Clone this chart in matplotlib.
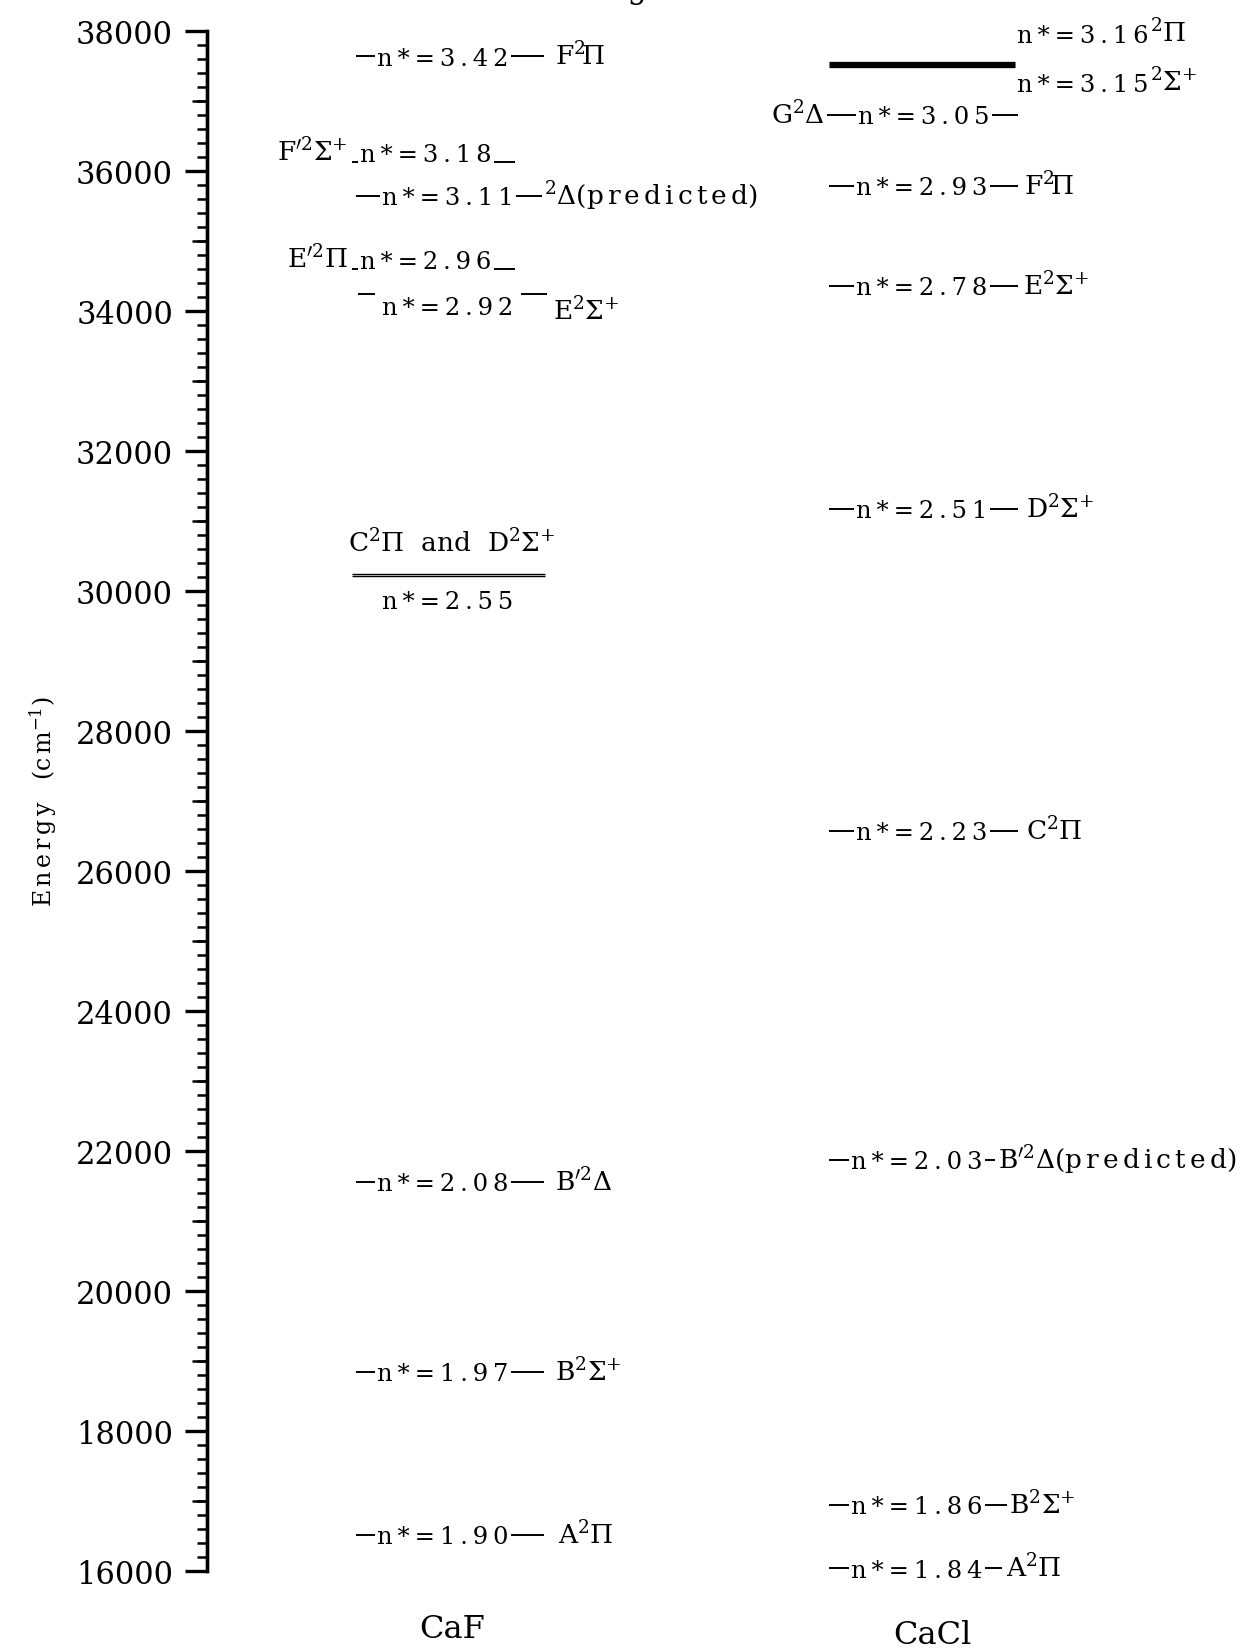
import matplotlib
matplotlib.use('Agg')
import matplotlib.pyplot as plt
from matplotlib.ticker import MultipleLocator, NullLocator, FixedLocator

plt.rcParams['font.family'] = ['DejaVu Serif', 'DejaVu Sans']
plt.rcParams['mathtext.fontset'] = 'dejavuserif'

# ---------------- data ----------------
molecules = ['CaF', 'CaCl']

caf_energy = [37640, 36130, 35650, 34600, 34250, 30250, 30210, 21557, 18843, 16514]
caf_nstar = [3.42, 3.18, 3.11, 2.96, 2.92, 2.55, 2.55, 2.08, 1.97, 1.90]
caf_states = [r'$\mathrm{F}^{2}\!\Pi$',
              r'$\mathrm{F}^{\prime 2}\Sigma^{+}$',
              r'$^{2}\Delta\mathrm{(p\,r\,e\,d\,i\,c\,t\,e\,d)}$',
              r'$\mathrm{E}^{\prime 2}\Pi$',
              r'$\mathrm{E}^{2}\Sigma^{+}$',
              r'$\mathrm{C}^{2}\Pi$',
              r'$\mathrm{D}^{2}\Sigma^{+}$',
              r'$\mathrm{B}^{\prime 2}\Delta$',
              r'$\mathrm{B}^{2}\Sigma^{+}$',
              r'$\mathrm{A}^{2}\Pi$']

cacl_energy = [37550, 37507, 36800, 35786, 34357, 31171, 26571, 21870, 16943, 16040]
cacl_nstar = [3.16, 3.15, 3.05, 2.93, 2.78, 2.51, 2.23, 2.03, 1.86, 1.84]
cacl_states = [r'$^{2}\Pi$',
               r'$^{2}\Sigma^{+}$',
               r'$\mathrm{G}^{2}\Delta$',
               r'$\mathrm{F}^{2}\!\Pi$',
               r'$\mathrm{E}^{2}\Sigma^{+}$',
               r'$\mathrm{D}^{2}\Sigma^{+}$',
               r'$\mathrm{C}^{2}\Pi$',
               r'$\mathrm{B}^{\prime 2}\Delta\mathrm{(p\,r\,e\,d\,i\,c\,t\,e\,d)}$',
               r'$\mathrm{B}^{2}\Sigma^{+}$',
               r'$\mathrm{A}^{2}\Pi$']

ytick_values = [16000, 18000, 20000, 22000, 24000, 26000, 28000, 30000,
                32000, 34000, 36000, 38000]
ytick_labels = ['16000', '18000', '20000', '22000', '24000', '26000', '28000',
                '30000', '32000', '34000', '36000', '38000']
y_label = r'$\mathrm{E\,n\,e\,r\,g\,y\quad(c\,m^{-1})}$'
title = 'Term Diagram'

# ---------------- layout (pixel offsets from column centre / point offsets) ----------------
PX = 470.0
W, H = 1258, 1649
NFS, LFS = 17.5, 19
A = 'after'   # label placed right after the n* text
# (x0, x1, n_dx, n_dy, n_ha, n_va, n_pad, l_dx, l_dy, l_ha, l_va, lw)
caf_layout = [
    (-96, 92, -9, -6, 'center', 'baseline', 0.08, 103, -6, 'left', 'baseline', 1.4),
    (-100, 63, -26, 1, 'center', 'baseline', 0.08, -104, 1, 'right', 'baseline', 1.4),
    (-96, 90, -4, -6, 'center', 'baseline', 0.08, 92, -6, 'left', 'baseline', 1.4),
    (-100, 63, -26, 1, 'center', 'baseline', 0.08, -104, 1, 'right', 'baseline', 1.4),
    (-94, 95, -4, -2, 'center', 'top', 0.32, 101, -2, 'left', 'top', 1.4),
    (-100, 93, -4, -12, 'center', 'top', 0, 0, 16, 'center', 'baseline', 1.0),
    (-100, 93, None, 0, '', '', 0, None, 0, '', '', 1.0),
    (-96, 92, -9, -6, 'center', 'baseline', 0.08, 103, -6, 'left', 'baseline', 1.4),
    (-96, 92, -9, -6, 'center', 'baseline', 0.08, 103, -6, 'left', 'baseline', 1.4),
    (-96, 92, -9, -6, 'center', 'baseline', 0.08, 106, -6, 'left', 'baseline', 1.4),
]
cacl_layout = [
    (-93, 93, 95, 15, 'left', 'baseline', 0, A, 15, 'left', 'baseline', 2.4),
    (-93, 93, 95, -18, 'left', 'baseline', 0, A, -18, 'left', 'baseline', 2.4),
    (-95, 96, 2, -6, 'center', 'baseline', 0.08, -97, -6, 'right', 'baseline', 1.4),
    (-93, 96, 0, -6, 'center', 'baseline', 0.08, 102, -6, 'left', 'baseline', 1.4),
    (-93, 96, 0, -6, 'center', 'baseline', 0.08, 101, -6, 'left', 'baseline', 1.4),
    (-93, 96, 0, -6, 'center', 'baseline', 0.08, 104, -6, 'left', 'baseline', 1.4),
    (-93, 96, 0, -6, 'center', 'baseline', 0.08, 104, -6, 'left', 'baseline', 1.4),
    (-93, 73, -5, -6, 'center', 'baseline', 0.08, 76, -6, 'left', 'baseline', 1.4),
    (-93, 85, -5, -6, 'center', 'baseline', 0.08, 87, -6, 'left', 'baseline', 1.4),
    (-93, 80, -5, -6, 'center', 'baseline', 0.08, 84, -6, 'left', 'baseline', 1.4),
]


def track(s, gap='\u2009'):
    return gap.join(s)


fig = plt.figure(figsize=(W / 100, H / 100), dpi=100)
ax = fig.add_axes([207 / W, (H - 1572) / H, (W - 207) / W, (1572 - 32) / H])
ax.set_ylim(16000, 38000)
ax.set_xlim((207 - 452) / PX, (W - 452) / PX)

for s in ['top', 'right', 'bottom']:
    ax.spines[s].set_visible(False)
ax.spines['left'].set_linewidth(2.4)
ax.set_xticks([])
ax.yaxis.set_major_locator(FixedLocator(ytick_values))
ax.set_yticklabels(ytick_labels)
ax.yaxis.set_minor_locator(MultipleLocator(200))
ax.tick_params(axis='y', which='major', length=15.8, width=2.4, pad=8.6, labelsize=22)
ax.tick_params(axis='y', which='minor', length=7.2, width=1.8)

sec = ax.secondary_yaxis('left')
sec.set_yticks([v + 1000 for v in ytick_values[:-1]])
sec.set_yticklabels([])
sec.yaxis.set_minor_locator(NullLocator())
sec.tick_params(axis='y', length=10.8, width=1.8)
sec.spines['left'].set_linewidth(2.4)

ax.set_ylabel(y_label, fontsize=17)
ax.yaxis.set_label_coords((59 - 207) / (W - 207), 0.5)


def draw_column(c, energies, nstars, states, layout, combined_idx=None):
    for i, (E, n, st, lay) in enumerate(zip(energies, nstars, states, layout)):
        x0, x1, ndx, ndy, nha, nva, npad, ldx, ldy, lha, lva, lw = lay
        ax.hlines(E, c + x0 / PX, c + x1 / PX, color='k', lw=lw, zorder=2)
        nt = None
        if ndx is not None:
            box = dict(boxstyle=f'square,pad={npad}', fc='white', ec='none') if npad else None
            nt = ax.annotate(track(f'n*={n:.2f}'), xy=(c + ndx / PX, E), xytext=(0, ndy),
                             textcoords='offset points', ha=nha, va=nva, fontsize=NFS,
                             bbox=box, zorder=3, annotation_clip=False)
        if ldx is None:
            continue
        label = st
        if combined_idx is not None and i == combined_idx:
            label = states[i] + '  and  ' + states[i + 1]
        if ldx == A:
            ax.annotate(label, xy=(1, E), xycoords=(nt, 'data'), xytext=(1, ldy),
                        textcoords='offset points', ha='left', va=lva, fontsize=LFS,
                        zorder=3, annotation_clip=False)
        else:
            ax.annotate(label, xy=(c + ldx / PX, E), xytext=(0, ldy),
                        textcoords='offset points', ha=lha, va=lva, fontsize=LFS,
                        zorder=3, annotation_clip=False)


draw_column(0, caf_energy, caf_nstar, caf_states, caf_layout, combined_idx=5)
draw_column(1, cacl_energy, cacl_nstar, cacl_states, cacl_layout)

# molecule names below the columns
trans = ax.get_xaxis_transform()
ax.text(0, (1572 - 1630) / 1540, molecules[0], transform=trans, ha='center', va='center',
        fontsize=23)
ax.text(1 + 10 / PX, (1572 - 1636) / 1540, molecules[1], transform=trans, ha='center',
        va='center', fontsize=23)

# cut-off title at the very top
fig.canvas.draw()
r = fig.canvas.get_renderer()
tmp = fig.text(0, 0, title[:title.index('g')], fontsize=22)
w = tmp.get_window_extent(renderer=r).width
tmp.remove()
fig.text((628 - w) / W, 1 + 2 / H, title, fontsize=22, ha='left', va='baseline')

fig.savefig('out.png', dpi=100)
